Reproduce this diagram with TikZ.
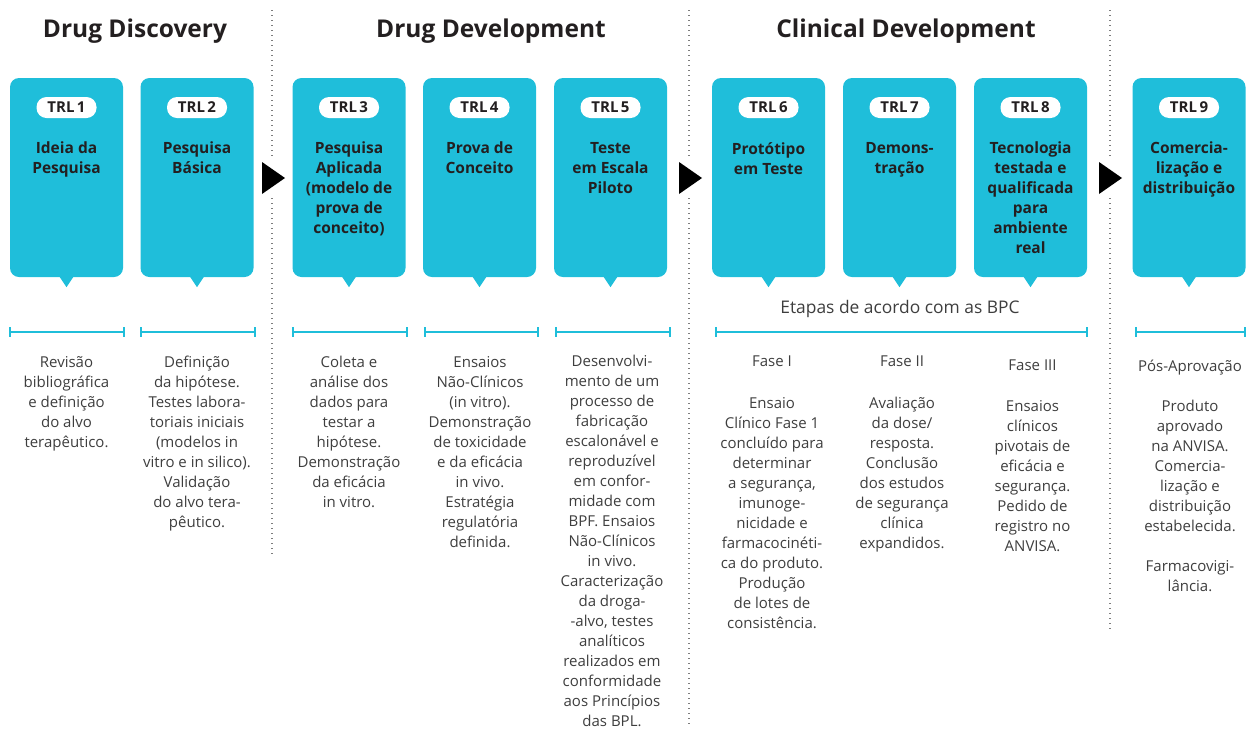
\documentclass[tikz,border=0pt]{standalone}
\usepackage{fontspec}
\setmainfont{Open Sans}
\usetikzlibrary{calc}
\definecolor{cyanbox}{RGB}{31,190,218}
\definecolor{ink}{RGB}{35,31,32}
\definecolor{bodyink}{RGB}{62,62,62}
\definecolor{dotgray}{RGB}{125,125,125}
\newcommand\trlstage[4]{%
  \node[trlbox] (b#1) at (#2,177.5) {};
  \fill[cyanbox] ($(b#1.south)+(-7,-0.5)$) -- ($(b#1.south)+(0,10)$) -- ($(b#1.south)+(7,-0.5)$) -- cycle;
  \node[pill] (p#1) at (#2,107.5) {TRL\,#3};
  \node[stagetitle] (t#1) at (#2,142) {#4};
}
\begin{document}
\begin{tikzpicture}[x=1pt,y=-1pt,
  trlbox/.style={fill=cyanbox, rounded corners=9pt, minimum width=113pt, minimum height=199pt, inner sep=0pt},
  pill/.style={fill=white, rounded corners=10pt, minimum width=60pt, minimum height=21pt, inner sep=0pt, font=\bfseries\fontsize{15}{15}\selectfont, text=ink},
  stagetitle/.style={anchor=north, align=center, font=\bfseries\fontsize{15.5}{20}\selectfont, text=ink, inner sep=0pt},
  body/.style={anchor=north, align=center, font=\fontsize{15}{20}\selectfont, text=bodyink, inner sep=0pt},
  header/.style={font=\bfseries\fontsize{24.5}{25}\selectfont, text=ink, anchor=base},
  bracket/.style={draw=cyanbox, line width=2pt},
  sepline/.style={draw=dotgray, line width=1.3pt, dash pattern=on 1.3pt off 3.7pt},
  playtri/.style={fill=black}
]
\useasboundingbox (0,0) rectangle (1246,729);

% headers
\node[header] (h1) at (135,37) {Drug Discovery};
\node[header] (h2) at (491,37) {Drug Development};
\node[header] (h3) at (906,37) {Clinical Development};

% dotted separators
\foreach \x/\yend in {272/555, 689/727, 1110/632}{
  \draw[sepline] (\x,10) -- (\x,157);
  \draw[sepline] (\x,198) -- (\x,\yend);
}

% arrows
\foreach \x in {262,679,1099}{
  \fill[playtri] (\x,162) -- (\x+23,178) -- (\x,194) -- cycle;
}

% stages
\trlstage{1}{66.5}{1}{Ideia da\\Pesquisa}
\trlstage{2}{197}{2}{Pesquisa\\Básica}
\trlstage{3}{349}{3}{Pesquisa\\Aplicada\\(modelo de\\prova de\\conceito)}
\trlstage{4}{479.5}{4}{Prova de\\Conceito}
\trlstage{5}{610.5}{5}{Teste\\em Escala\\Piloto}
\trlstage{6}{768.5}{6}{Protótipo\\em Teste}
\trlstage{7}{899.5}{7}{Demons-\\tração}
\trlstage{8}{1030.5}{8}{Tecnologia\\testada e\\qualificada\\para\\ambiente\\real}
\trlstage{9}{1189}{9}{Comercia-\\lização e\\distribuição}

% brackets
\foreach \a/\b in {10/124, 141/255, 293/407, 425/538, 556/670, 716/1087, 1136/1245}{
  \draw[bracket] (\a,332) -- (\b,332);
  \draw[bracket] (\a,327) -- (\a,337);
  \draw[bracket] (\b,327) -- (\b,337);
}

\node[font=\fontsize{17.4}{18}\selectfont, text=bodyink] (etapas) at (900,309) {Etapas de acordo com as BPC};

% body texts
\node[body] (d1) at (66.5,356) {Revisão\\bibliográfica\\e definição\\do alvo\\terapêutico.};
\node[body] (d2) at (197,356) {Definição\\da hipótese.\\Testes labora-\\toriais iniciais\\(modelos in\\vitro e in silico).\\Validação\\do alvo tera-\\pêutico.};
\node[body] (d3) at (349,356) {Coleta e\\análise dos\\dados para\\testar a\\hipótese.\\Demonstração\\da eficácia\\in vitro.};
\node[body] (d4) at (480,356) {Ensaios\\Não-Clínicos\\(in vitro).\\Demonstração\\de toxicidade\\e da eficácia\\in vivo.\\Estratégia\\regulatória\\definida.};
\node[body] (d5) at (612,355) {Desenvolvi-\\mento de um\\processo de\\fabricação\\escalonável e\\reproduzível\\em confor-\\midade com\\BPF. Ensaios\\Não-Clínicos\\in vivo.\\Caracterização\\da droga-\\-alvo, testes\\analíticos\\realizados em\\conformidade\\aos Princípios\\das BPL.};

\node[body] (f1) at (772,356) {Fase I};
\node[body] (f2) at (902,356) {Fase II};
\node[body] (f3) at (1032.5,360) {Fase III};
\node[body] (f4) at (1190,360) {Pós-Aprovação};

\node[body] (d6) at (772,397) {Ensaio\\Clínico Fase 1\\concluído para\\determinar\\a segurança,\\imunoge-\\nicidade e\\farmacocinéti-\\ca do produto.\\Produção\\de lotes de\\consistência.};
\node[body] (d7) at (902,397) {Avaliação\\da dose/\\resposta.\\Conclusão\\dos estudos\\de segurança\\clínica\\expandidos.};
\node[body] (d8) at (1032.5,400) {Ensaios\\clínicos\\pivotais de\\eficácia e\\segurança.\\Pedido de\\registro no\\ANVISA.};
\node[body] (d9) at (1190,400) {Produto\\aprovado\\na ANVISA.\\Comercia-\\lização e\\distribuição\\estabelecida.\\[20pt]Farmacovigi-\\lância.};
\end{tikzpicture}
\end{document}
